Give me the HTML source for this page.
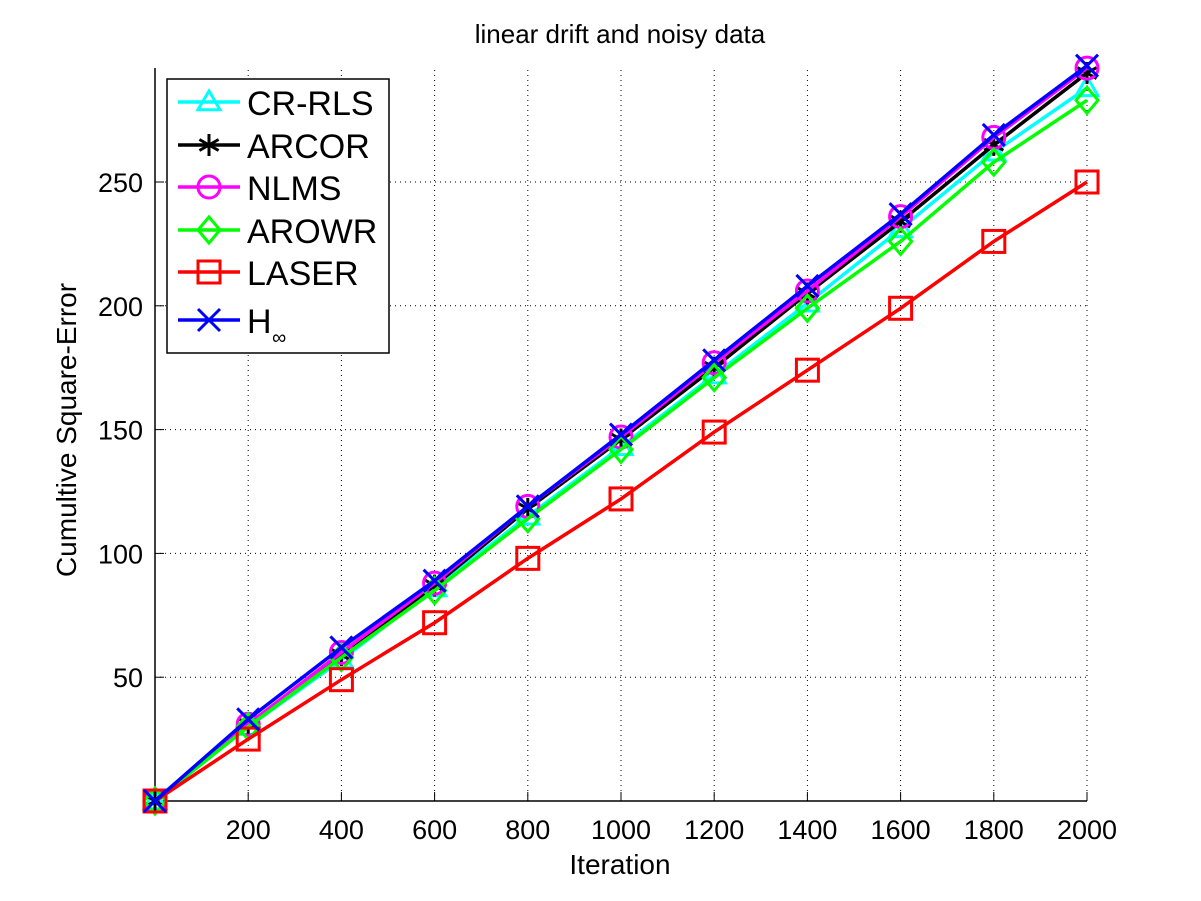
<!DOCTYPE html>
<html><head><meta charset="utf-8"><style>
html,body{margin:0;padding:0;background:#fff;}
svg{display:block;font-family:"Liberation Sans",sans-serif;}
</style></head><body>
<svg id="chart" width="1201" height="901" viewBox="0 0 1201 901" xmlns="http://www.w3.org/2000/svg">
<rect width="1201" height="901" fill="#fff"/>
<text x="620" y="43" font-size="26" text-anchor="middle">linear drift and noisy data</text>
<g id="grid"></g>
<g id="axes"></g>
<g id="series"></g>
<text x="620" y="874" font-size="28" text-anchor="middle">Iteration</text>
<text x="76" y="430" font-size="28" text-anchor="middle" transform="rotate(-90 76 430)">Cumultive Square-Error</text>
<g id="legend"></g>
</svg>
<script>
const iterations = [0,200,400,600,800,1000,1200,1400,1600,1800,2000];
const crrls = [0,30,57,86,115,143,172,201,231,262,288];
const arcor = [0,31,59,87,118,146,175,205,234,265,294];
const nlms  = [0,31,60,88,119,147,177,206,236,268,296];
const arowr = [0,30,58,85,114,142,171,199,226,258,283];
const laser = [0,25,49,72,98,122,149,174,199,226,250];
const hinf  = [0,33,62,89,119,148,178,208,237,269,297];
const xTicks = [200,400,600,800,1000,1200,1400,1600,1800,2000];
const yTicks = [50,100,150,200,250];

const NS="http://www.w3.org/2000/svg";
const X0=155,X1=1087,Y0=801,Y1=68;
const xs=v=>X0+(v-0)/2000*(X1-X0);
const ys=v=>Y0-v/250*(Y0-182);
function mk(tag,attrs,parent){const e=document.createElementNS(NS,tag);for(const k in attrs)e.setAttribute(k,attrs[k]);parent.appendChild(e);return e;}
const grid=document.getElementById('grid'),axes=document.getElementById('axes'),ser=document.getElementById('series'),leg=document.getElementById('legend');
xTicks.forEach(t=>{
  const l=mk('line',{x1:xs(t),x2:xs(t),y1:Y0,y2:Y1,stroke:'#000','stroke-width':1,'stroke-dasharray':'1,4'},grid);
  
  
  const tk=mk('line',{x1:xs(t),x2:xs(t),y1:Y0,y2:Y0-9,stroke:'#000'},axes);
  
  
  const tx=mk('text',{x:xs(t),y:Y0+38,'font-size':27,'text-anchor':'middle'},axes);
  tx.textContent=t;
  
  
});
yTicks.forEach(t=>{
  const l=mk('line',{x1:X0,x2:X1,y1:ys(t),y2:ys(t),stroke:'#000','stroke-width':1,'stroke-dasharray':'1,4'},grid);
  
  
  const tk=mk('line',{x1:X0,x2:X0+9,y1:ys(t),y2:ys(t),stroke:'#000'},axes);
  
  
  const tx=mk('text',{x:X0-12,y:ys(t)+10,'font-size':27,'text-anchor':'end'},axes);
  tx.textContent=t;
  
  
});
const ax=mk('path',{d:`M${X0} ${Y1}V${Y0}H${X1}`,stroke:'#000','stroke-width':1.5,fill:'none'},axes);



function marker(type,x,y,c,g){
  const s=11,w=3;
  if(type==='tri') mk('polygon',{points:`${x},${y-s} ${x-s},${y+s*0.7} ${x+s},${y+s*0.7}`,fill:'none',stroke:c,'stroke-width':w},g);
  else if(type==='star'){[[0,-s],[s*0.87,-s*0.5],[s*0.87,s*0.5]].forEach(d=>mk('line',{x1:x-d[0],y1:y-d[1],x2:x+d[0],y2:y+d[1],stroke:c,'stroke-width':w},g));}
  else if(type==='circ') mk('circle',{cx:x,cy:y,r:s,fill:'none',stroke:c,'stroke-width':w},g);
  else if(type==='dia') mk('polygon',{points:`${x},${y-s-2} ${x+s},${y} ${x},${y+s+2} ${x-s},${y}`,fill:'none',stroke:c,'stroke-width':w},g);
  else if(type==='sq') mk('rect',{x:x-s,y:y-s,width:2*s,height:2*s,fill:'none',stroke:c,'stroke-width':w},g);
  else if(type==='x'){mk('line',{x1:x-s,y1:y-s,x2:x+s,y2:y+s,stroke:c,'stroke-width':w},g);mk('line',{x1:x-s,y1:y+s,x2:x+s,y2:y-s,stroke:c,'stroke-width':w},g);}
}
const seriesList=[
 ['CR-RLS',crrls,'#00ffff','tri','series-cr-rls'],
 ['ARCOR',arcor,'#000000','star','series-arcor'],
 ['NLMS',nlms,'#ff00ff','circ','series-nlms'],
 ['AROWR',arowr,'#00ff00','dia','series-arowr'],
 ['LASER',laser,'#ff0000','sq','series-laser'],
 ['H∞',hinf,'#0000ff','x','series-h-inf']];
seriesList.forEach(s=>{
  const g=mk('g',{},ser);
  
  
  const p=mk('polyline',{points:iterations.map((v,i)=>xs(v)+','+ys(s[1][i])).join(' '),fill:'none',stroke:s[2],'stroke-width':3.5},g);
  
  
  iterations.forEach((v,i)=>marker(s[3],xs(v),ys(s[1][i]),s[2],g));
});
const lb=mk('rect',{x:167,y:79,width:222,height:274,fill:'#fff',stroke:'#000','stroke-width':1.5},leg);


const ly=[102,145,187,230,272,320];
seriesList.forEach((s,i)=>{
  const g=mk('g',{},leg);
  
  
  mk('line',{x1:178,x2:240,y1:ly[i],y2:ly[i],stroke:s[2],'stroke-width':3.5},g);
  marker(s[3],209,ly[i],s[2],g);
  const t=mk('text',{x:247,y:ly[i]+13,'font-size':34},g);
  if(s[3]==='x'){t.textContent='H';const sub=mk('text',{x:272,y:ly[i]+24,'font-size':20},g);sub.textContent='∞';}
  else t.textContent=s[0];
});
</script>
</body></html>
